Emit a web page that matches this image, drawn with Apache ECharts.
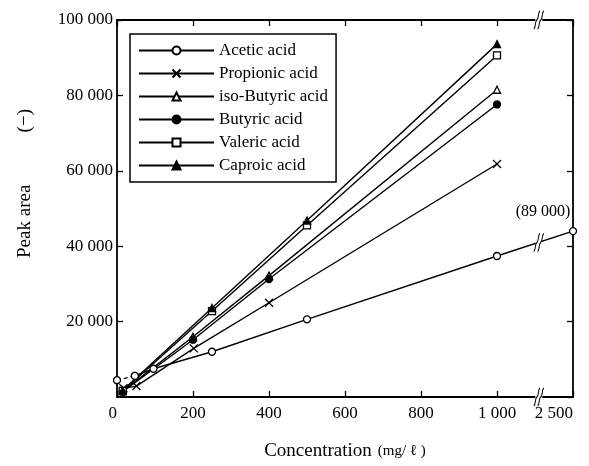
<!DOCTYPE html>
<html>
<head>
<meta charset="utf-8">
<script src="https://cdn.jsdelivr.net/npm/echarts@6/dist/echarts.min.js"></script>
<style>
  html, body { margin: 0; padding: 0; background: #fff; }
  #chart { width: 589px; height: 466px; }
</style>
</head>
<body>
<div id="chart"></div>
<script>
// x positions are on the broken axis: 0..1000 linear, 1200 = 2 500 mg/l
const xTicks = [0, 200, 400, 600, 800, 1000, 1200];
const xTickLabels = ['0', '200', '400', '600', '800', '1 000', '2 500'];
const yTicks = [0, 20000, 40000, 60000, 80000, 100000];
const breakX = 1110;

const seriesNames = ['Acetic acid', 'Propionic acid', 'iso-Butyric acid', 'Butyric acid', 'Valeric acid', 'Caproic acid'];

const aceticLow   = [[0, 4450], [47, 5600]];           // dashed part
const acetic      = [[47, 5600], [96, 7500], [250, 12000], [500, 20600], [1000, 37400], [1200, 44000]];
const aceticBreak = [breakX, 41000];
const aceticTopLabel = '(89 000)';
const propionic   = [[17, 2300], [51, 2900], [202, 12900], [400, 25000], [1000, 61800]];
const isoButyric  = [[15, 1500], [200, 16000], [400, 32200], [1000, 81500]];
const butyric     = [[15, 1400], [200, 15200], [400, 31300], [1000, 77600]];
const valeric     = [[15, 1600], [250, 22800], [500, 45500], [1000, 90600]];
const caproic     = [[15, 1800], [250, 23600], [500, 46800], [1000, 93600]];

const FONT = '"Liberation Serif", "DejaVu Serif", serif';
const crossPath = 'path://M0,0L10,10M10,0L0,10';
const breakPath = 'path://M0,20C3,18 1,12 4,10C7,8 5,2 8,0M5,20C8,18 6,12 9,10C12,8 10,2 13,0';

const fmtNum = v => String(v).replace(/\B(?=(\d{3})+$)/g, ' ');

function line(name, data, symbol, filled, extra) {
  return Object.assign({
    name, type: 'line', data,
    symbol, symbolSize: symbol === crossPath ? 8 : 7,
    showSymbol: true,
    lineStyle: { color: '#000', width: 1.4 },
    itemStyle: {
      color: filled ? '#000' : '#fff',
      borderColor: '#000', borderWidth: 1.3,
    },
    emphasis: { disabled: true },
    z: 3,
  }, extra || {});
}

const breakStroke = { color: 'transparent', borderColor: '#000', borderWidth: 1.3 };
const tick = () => ({ show: true, inside: true, length: 6, lineStyle: { color: '#000', width: 1.3 } });
const axLine = () => ({ show: true, onZero: false, lineStyle: { color: '#000', width: 1.8 } });

const chart = echarts.init(document.getElementById('chart'));

chart.setOption({
  backgroundColor: '#fff',
  animation: false,
  textStyle: { fontFamily: FONT, color: '#000' },
  grid: { left: 117, right: 16, top: 20, bottom: 64, containLabel: false },
  legend: {
    data: seriesNames,
    left: 130, top: 34,
    orient: 'vertical',
    padding: [8, 8, 8, 8],
    itemWidth: 75, itemHeight: 10, itemGap: 6,
    borderColor: '#000', borderWidth: 1.5,
    backgroundColor: '#fff',
    textStyle: { fontFamily: FONT, fontSize: 17, color: '#000', lineHeight: 17 },
  },
  xAxis: [
    {
      type: 'value', min: 0, max: 1200, interval: 200,
      name: '{a|Concentration}  {b|(mg/ ℓ )}',
      nameLocation: 'middle', nameGap: 45,
      nameTextStyle: {
        rich: {
          a: { fontFamily: FONT, fontSize: 19, color: '#000' },
          b: { fontFamily: FONT, fontSize: 15, color: '#000' },
        },
      },
      axisLine: axLine(),
      axisTick: tick(),
      axisLabel: {
        fontFamily: FONT, fontSize: 17, color: '#000', margin: 8,
        alignMinLabel: 'right', alignMaxLabel: 'right',
        formatter: v => xTickLabels[xTicks.indexOf(v)] ?? '',
      },
      splitLine: { show: false },
    },
    {
      type: 'value', min: 0, max: 1200, interval: 200, position: 'top',
      axisLine: axLine(),
      axisTick: tick(),
      axisLabel: { show: false },
      splitLine: { show: false },
    },
  ],
  yAxis: [
    {
      type: 'value', min: yTicks[0], max: yTicks[yTicks.length - 1], interval: 20000,
      position: 'left',
      name: 'Peak area           (−)',
      nameLocation: 'middle', nameGap: 82,
      nameTextStyle: { fontFamily: FONT, fontSize: 19, color: '#000', padding: [0, 0, 0, 50] },
      axisLine: axLine(),
      axisTick: tick(),
      axisLabel: {
        fontFamily: FONT, fontSize: 17, color: '#000', margin: 4,
        showMinLabel: false,
        formatter: v => fmtNum(v),
      },
      splitLine: { show: false },
    },
    {
      type: 'value', min: 0, max: 100000, interval: 20000, position: 'right',
      axisLine: axLine(),
      axisTick: tick(),
      axisLabel: { show: false },
      splitLine: { show: false },
    },
  ],
  series: [
    line('Acetic acid', acetic, 'circle', false, {
      label: {
        show: true,
        formatter: p => (p.dataIndex === acetic.length - 1 ? aceticTopLabel : ''),
        position: 'top', offset: [-30, -2],
        fontFamily: FONT, fontSize: 16, color: '#000',
      },
      markPoint: {
        silent: true,
        label: { show: false },
        data: [
          // white gaps under the break marks
          { coord: [breakX, 0], symbol: 'rect', symbolSize: [7, 10], itemStyle: { color: '#fff' } },
          { coord: [breakX, 100000], symbol: 'rect', symbolSize: [7, 10], itemStyle: { color: '#fff' } },
          { coord: aceticBreak, symbol: 'rect', symbolSize: [6, 8], itemStyle: { color: '#fff' } },
          { coord: [breakX, 0], symbol: breakPath, symbolSize: [10, 18], itemStyle: breakStroke },
          { coord: [breakX, 100000], symbol: breakPath, symbolSize: [10, 18], itemStyle: breakStroke },
          { coord: aceticBreak, symbol: breakPath, symbolSize: [10, 18], itemStyle: breakStroke },
        ],
      },
    }),
    line('Acetic acid', aceticLow, 'circle', false, { lineStyle: { color: '#000', width: 1.3, type: [4, 3] } }),
    line('Propionic acid', propionic, crossPath, false),
    line('iso-Butyric acid', isoButyric, 'triangle', false),
    line('Butyric acid', butyric, 'circle', true),
    line('Valeric acid', valeric, 'rect', false),
    line('Caproic acid', caproic, 'triangle', true),
  ],
});
</script>
</body>
</html>
